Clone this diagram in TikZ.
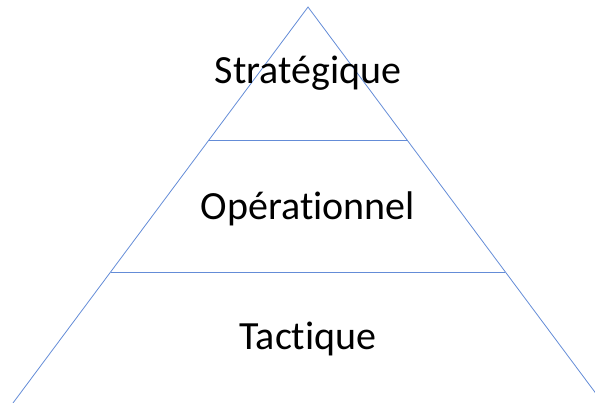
\documentclass[tikz,border=0pt]{standalone}
\usepackage{fontspec}
\setmainfont[Ligatures=NoCommon]{Carlito}
\definecolor{pyramidblue}{RGB}{100,140,215}
\tikzset{
        edge/.style={draw=pyramidblue, line width=0.8pt},
        level/.style={text=black, anchor=base, inner sep=0pt, font=\fontsize{40}{46}\selectfont}
          }

\begin{document}
\begin{tikzpicture}[x=1pt, y=-1pt]
        \useasboundingbox (0,0) rectangle (595,403);
        \clip (0,0) rectangle (595,403);
        \coordinate (top) at (308,7);
        \coordinate (bl) at (13,403);
        \coordinate (br) at (603,403);
        \coordinate (al) at (209,140);
        \coordinate (ar) at (407,140);
        \coordinate (bl2) at (111,272);
        \coordinate (br2) at (505,272);
        \draw[edge] (bl) -- (top) -- (br);
        \draw[edge] (al) -- (ar);
        \draw[edge] (bl2) -- (br2);
        \node[level] (strat) at (308,84) {Stratégique};
        \node[level] (oper) at (308,220) {Opérationnel};
        \node[level] (tact) at (308,350) {Tactique};
      \end{tikzpicture}
\end{document}
